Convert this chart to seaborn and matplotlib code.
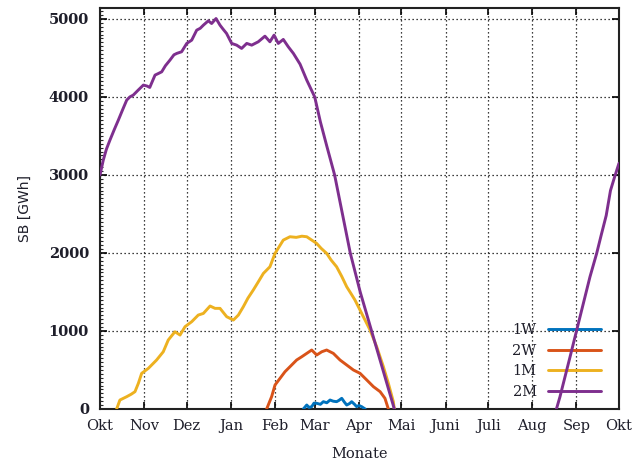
import numpy as np
import pandas as pd
import matplotlib
matplotlib.use("Agg")
import matplotlib.pyplot as plt
from matplotlib.ticker import MultipleLocator
import seaborn as sns

# Month ticks (days since 1 Oct) and their labels
month_days = [0, 31, 61, 92, 123, 151, 182, 212, 243, 273, 304, 335, 365]
month_labels = ["Okt", "Nov", "Dez", "Jan", "Feb", "Mar", "Apr", "Mai",
                "Juni", "Juli", "Aug", "Sep", "Okt"]

# Storage level SB [GWh] per scenario: day of year (from 1 Oct) and value
w1_day = [143, 145.4, 147, 148.9, 150.5, 152.4, 155, 157.1, 159.5, 161.8, 164, 166.4,
          168, 170, 171.8, 173.5, 175.5, 177, 179, 180.5, 182, 184, 186.5]
w1_val = [0, 51, 20, 30, 75, 73, 60, 94, 80, 115, 100, 94,
          110, 137, 90, 51, 70, 94, 60, 30, 45, 30, 0]

w2_day = [117.2, 120.7, 123.1, 126.6, 130.1, 133.6, 138.3, 141.9, 145.4, 148.9, 152.4,
          156, 159.4, 164.1, 168.8, 173.5, 178.2, 182.9, 187.6, 192.3, 197, 200.4, 202.8]
w2_val = [0, 158, 308, 393, 478, 542, 628, 670, 713, 756, 692,
          734, 756, 713, 628, 564, 500, 457, 372, 286, 222, 137, 0]

m1_day = [11.7, 14, 18.8, 22, 24.6, 27, 29.3, 34, 39.8, 44.5, 48, 52.7, 56.3, 59.8,
          64.5, 69.1, 72.7, 77.4, 80.9, 84.4, 89.1, 93.8, 97.3, 100.8, 104, 107.8,
          111, 114.9, 119.5, 123.1, 126, 128.9, 133.6, 138, 142, 145.4, 148.5, 152.4,
          155.5, 159.4, 162.5, 166.4, 170, 173.5, 176.5, 179.3, 182, 185.2, 187.5,
          189.9, 194.6, 199.3, 202.8, 206.3, 207]
m1_val = [0, 115, 158, 190, 222, 330, 457, 521, 628, 734, 884, 990, 948, 1055,
          1119, 1204, 1225, 1320, 1290, 1290, 1183, 1140, 1204, 1311, 1420, 1525,
          1620, 1738, 1823, 1995, 2080, 2165, 2208, 2200, 2215, 2208, 2170, 2122,
          2060, 1995, 1910, 1823, 1700, 1567, 1480, 1397, 1300, 1183, 1100,
          1012, 798, 542, 329, 94, 0]

m2a_day = [0, 2.3, 4.5, 7, 10, 12.9, 16, 18.8, 21, 23.4, 27, 30.5, 33, 35, 38.7, 41,
           43.4, 46, 49.2, 52, 54, 57.4, 61, 64.5, 68, 70.5, 72.7, 76.2, 78.5, 81.6,
           84.4, 86.5, 89, 92.6, 96.1, 99.6, 103.2, 106.7, 111.3, 116, 119.5, 122.4,
           125.4, 128.9, 132.4, 136, 140.7, 145.4, 151, 155, 159.5, 165, 170.5, 176,
           183, 191, 199, 207]
m2a_val = [3000, 3190, 3330, 3447, 3580, 3703, 3840, 3960, 4000, 4024, 4090, 4152,
           4140, 4122, 4280, 4300, 4322, 4400, 4472, 4540, 4558, 4579, 4686, 4728,
           4856, 4880, 4920, 4976, 4941, 5005, 4920, 4870, 4814, 4686, 4664, 4622,
           4686, 4664, 4707, 4779, 4707, 4792, 4686, 4737, 4643, 4558, 4420, 4216,
           4000, 3680, 3370, 3000, 2500, 2000, 1500, 1000, 500, 0]
m2b_day = [321, 323.5, 330.6, 337.6, 344.6, 349.3, 352.5, 356, 359, 362, 365]
m2b_val = [0, 158, 670, 1183, 1695, 1995, 2230, 2480, 2800, 2980, 3150]

series_names = ["1W", "2W", "1M", "2M"]
colors = ["#0072BD", "#D95319", "#EDB120", "#7E2F8E"]

frames = [
    pd.DataFrame({"Tag": w1_day, "SB": w1_val, "Szenario": "1W", "Abschnitt": 0}),
    pd.DataFrame({"Tag": w2_day, "SB": w2_val, "Szenario": "2W", "Abschnitt": 0}),
    pd.DataFrame({"Tag": m1_day, "SB": m1_val, "Szenario": "1M", "Abschnitt": 0}),
    pd.DataFrame({"Tag": m2a_day, "SB": m2a_val, "Szenario": "2M", "Abschnitt": 0}),
    pd.DataFrame({"Tag": m2b_day, "SB": m2b_val, "Szenario": "2M", "Abschnitt": 1}),
]
df = pd.concat(frames, ignore_index=True)

sns.set_style("ticks")
plt.rcParams["font.family"] = ["DejaVu Serif"]
text_col = "#1e1e2a"

fig = plt.figure(figsize=(6.34, 4.71), dpi=100)
ax = fig.add_axes([100 / 634, 1 - 409 / 471, 519 / 634, 401 / 471])

sns.lineplot(data=df, x="Tag", y="SB", hue="Szenario", units="Abschnitt",
             estimator=None, sort=False, hue_order=series_names,
             palette=colors, linewidth=2.1, ax=ax, legend=False)
for ln in ax.lines:
    ln.set_zorder(4)
    ln.set_solid_joinstyle("round")

ax.set_xlim(0, 365)
ax.set_ylim(0, 5140)
ax.set_xticks(month_days)
ax.set_xticklabels(month_labels, fontsize=10.5, color=text_col)
ax.set_yticks([0, 1000, 2000, 3000, 4000, 5000])
ax.set_yticklabels(["0", "1000", "2000", "3000", "4000", "5000"],
                   fontsize=10.5, fontweight="bold", color=text_col)
ax.yaxis.set_minor_locator(MultipleLocator(50))

ax.grid(True, which="major", color="black", linestyle=(0, (1, 2.2)),
        linewidth=0.9, zorder=0.5)
ax.set_axisbelow(True)

ax.tick_params(axis="both", which="major", direction="in", length=5, width=1.2,
               top=True, right=True, color="black")
ax.tick_params(axis="x", pad=7)
ax.tick_params(axis="y", pad=8)
ax.tick_params(axis="y", which="minor", direction="in", length=2, width=0.8,
               left=True, right=False)
ax.tick_params(axis="x", which="minor", bottom=False, top=False)

for sp in ax.spines.values():
    sp.set_visible(True)
    sp.set_color("#222222")
    sp.set_linewidth(1.5)

ax.set_xlabel("Monate", fontsize=10.5, color=text_col, labelpad=10)
ax.set_ylabel("SB [GWh]", fontsize=10, color=text_col, family=["DejaVu Sans"],
              labelpad=12)

handles = [plt.Line2D([], [], color=c, linewidth=2.1) for c in colors]
leg = ax.legend(handles, series_names, loc="lower right",
                bbox_to_anchor=(0.965, 0.025), frameon=False, markerfirst=False,
                handlelength=3.6, handletextpad=0.8, labelspacing=0.45,
                borderaxespad=0, borderpad=0, fontsize=10.5)
for t in leg.get_texts():
    t.set_color(text_col)
leg.set_zorder(3)

fig.savefig("out.png", dpi=100)
